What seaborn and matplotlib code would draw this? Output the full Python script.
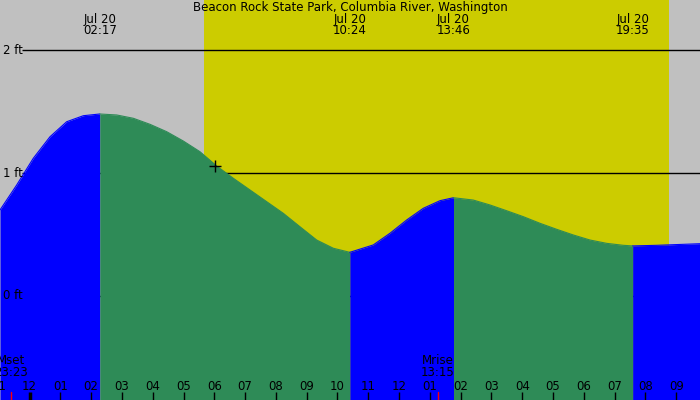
import numpy as np
import pandas as pd
import matplotlib
matplotlib.use("Agg")
import matplotlib.pyplot as plt
import seaborn as sns

# --- donnees (heures depuis minuit le 20 juillet, pieds) ---
hours = [-0.958, -0.417, 0.124, 0.666, 1.207, 1.748, 2.283, 2.830, 3.371, 3.912,
         4.454, 4.994, 5.536, 6.077, 6.618, 7.159, 7.700, 8.241, 8.782, 9.324,
         9.865, 10.4, 11.162, 11.705, 12.247, 12.786, 13.328, 13.767, 14.409,
         14.951, 15.494, 16.032, 16.575, 17.117, 17.656, 18.198, 18.740, 19.279,
         19.583, 20.364, 20.903, 21.77]
heights = [0.699, 0.902, 1.120, 1.295, 1.417, 1.466, 1.480, 1.472, 1.445, 1.396,
           1.336, 1.260, 1.173, 1.057, 0.957, 0.862, 0.767, 0.672, 0.563, 0.455,
           0.388, 0.355, 0.415, 0.510, 0.618, 0.713, 0.775, 0.799, 0.780,
           0.740, 0.693, 0.645, 0.591, 0.542, 0.496, 0.455, 0.428, 0.412,
           0.407, 0.412, 0.417, 0.425]

event_times = [2.283, 10.4, 13.767, 19.583]
event_labels = ["02:17", "10:24", "13:46", "19:35"]
event_date = "Jul 20"

sunrise, sunset = 5.666, 20.76
moon_times = [-0.617, 13.25]
moon_labels = [("Mset", "23:23"), ("Mrise", "13:15")]

tick_hours = list(range(-1, 22))
y_levels = [0, 1, 2]
title = "Beacon Rock State Park, Columbia River, Washington"
mark_point = (6.023, 1.059)

# --- mise en page ---
x0, x1 = -0.958, 21.77
y0, y1 = -0.846, 2.407
gray, yellow, blue, green = "#c0c0c0", "#cccc00", "#0000ff", "#2e8b57"

sns.set_style("white")
plt.rcParams["font.family"] = ["DejaVu Sans"]
plt.rcParams["text.color"] = "black"

fig = plt.figure(figsize=(7, 4), dpi=100)
ax = fig.add_axes([0, 0, 1, 1])
fig.patch.set_facecolor(gray)
ax.add_patch(plt.Rectangle((0, 0), 1, 1, transform=ax.transAxes, color=gray, zorder=0))
ax.axvspan(sunrise, sunset, color=yellow, zorder=1, lw=0)

# lignes de niveau (sous la maree)
ax.hlines(y_levels, -0.2435, x1, color="black", lw=1, zorder=2)

# maree: bleu montante, vert descendante
df = pd.DataFrame({"h": hours, "ft": heights})
bounds = [x0] + event_times + [x1]
for i in range(len(bounds) - 1):
    seg = df[(df.h >= bounds[i] - 1e-6) & (df.h <= bounds[i + 1] + 1e-6)]
    col = blue if seg.ft.iloc[-1] > seg.ft.iloc[0] else green
    ax.fill_between(seg.h, seg.ft, y0, color=col, lw=0, zorder=3)
    sns.lineplot(data=seg, x="h", y="ft", color=col, lw=0.8, ax=ax, zorder=3,
                 sort=False, estimator=None)
ax.set_xlim(x0, x1)
ax.set_ylim(y0, y1)
ax.axis("off")

fs = 8.5
xt = ax.get_xaxis_transform()
ax.text(0.5, 1 - 7 / 400, title, transform=ax.transAxes, ha="center", va="center",
        fontsize=fs, zorder=6)
for t, lab in zip(event_times, event_labels):
    ax.text(t, 1 - 19 / 400, event_date, transform=xt, ha="center", va="center", fontsize=fs, zorder=6)
    ax.text(t, 1 - 31 / 400, lab, transform=xt, ha="center", va="center", fontsize=fs, zorder=6)

for lv in y_levels:
    ax.text(3 / 700, lv, f"{lv} ft", transform=ax.get_yaxis_transform(), ha="left",
            va="center", fontsize=fs, zorder=6)

for h in tick_hours:
    h12 = h % 12 or 12
    ax.text(h, 14 / 400, f"{h12:02d}", transform=xt, ha="center", va="center", fontsize=fs, zorder=6)
    ax.plot([h, h], [0, 8 / 400], transform=xt, color="black",
            lw=2.5 if h == 0 else 1, zorder=6, solid_capstyle="butt")

for t, (a, b) in zip(moon_times, moon_labels):
    ax.text(t, 1 - 360 / 400, a, transform=xt, ha="center", va="center", fontsize=fs, zorder=6)
    ax.text(t, 1 - 372 / 400, b, transform=xt, ha="center", va="center", fontsize=fs, zorder=6)
    ax.plot([t, t], [0, 8 / 400], transform=xt, color="red", lw=1, zorder=6)

ax.plot(*mark_point, marker="+", color="black", ms=8, mew=1, zorder=6)

fig.savefig("out.png", dpi=100, facecolor=gray)
